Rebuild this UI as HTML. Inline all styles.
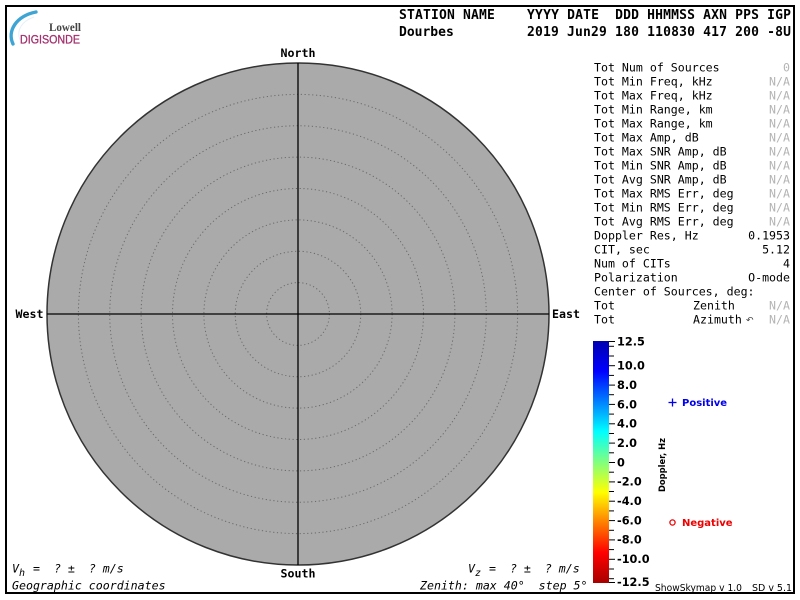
<!DOCTYPE html>
<html><head><meta charset="utf-8"><style>
html,body{margin:0;padding:0;background:#fff;}
svg{display:block;}
text{white-space:pre;}
.mono{font-family:"DejaVu Sans Mono","Liberation Mono",monospace;}
.sans{font-family:"DejaVu Sans","Liberation Sans",sans-serif;}
</style></head><body>
<svg width="800" height="600" viewBox="0 0 800 600" xmlns="http://www.w3.org/2000/svg" xml:space="preserve">
<rect x="0" y="0" width="800" height="600" fill="#fff"/>
<rect x="6" y="6" width="788" height="587" fill="none" stroke="#000" stroke-width="2"/>

<!-- logo -->
<path d="M13,44 C7,31 16,16 36,12" fill="none" stroke="#3ea4d4" stroke-width="3.4" stroke-linecap="round"/>
<path d="M20,40 C16,30 22,21 34,17" fill="none" stroke="#e4f1f8" stroke-width="1"/>
<text x="49" y="31" font-family="Liberation Serif,serif" font-size="11.5" font-weight="bold" fill="#444" textLength="32" lengthAdjust="spacingAndGlyphs">Lowell</text>
<text x="20" y="43.5" font-family="Liberation Sans,sans-serif" font-size="12" fill="#a3316e" stroke="#a3316e" stroke-width="0.3" textLength="60" lengthAdjust="spacingAndGlyphs">DIGISONDE</text>

<!-- header -->
<g class="mono" font-weight="bold" font-size="13" fill="#000">
<text x="399" y="19" textLength="392" lengthAdjust="spacing">STATION NAME    YYYY DATE  DDD HHMMSS AXN PPS IGP</text>
<text x="399" y="36">Dourbes</text>
<text x="527" y="36" textLength="264" lengthAdjust="spacing">2019 Jun29 180 110830 417 200 -8U</text>
</g>

<!-- polar plot -->
<circle cx="298" cy="314" r="251" fill="#aaaaaa" stroke="#333" stroke-width="1.5"/>
<g fill="none" stroke="#6a6a6a" stroke-width="1" stroke-dasharray="1.2 2.6">
<circle cx="298" cy="314" r="31.4"/>
<circle cx="298" cy="314" r="62.75"/>
<circle cx="298" cy="314" r="94.1"/>
<circle cx="298" cy="314" r="125.5"/>
<circle cx="298" cy="314" r="156.9"/>
<circle cx="298" cy="314" r="188.25"/>
<circle cx="298" cy="314" r="219.6"/>
</g>
<line x1="298" y1="63" x2="298" y2="565" stroke="#000" stroke-width="1.3"/>
<line x1="47" y1="314" x2="549" y2="314" stroke="#000" stroke-width="1.3"/>

<g class="mono" font-weight="bold" font-size="11.6" fill="#000">
<text x="298" y="57" text-anchor="middle">North</text>
<text x="298" y="577.5" text-anchor="middle">South</text>
<text x="15.5" y="318">West</text>
<text x="552" y="318">East</text>
</g>

<!-- right info panel -->
<g class="mono" font-size="11.6" fill="#000">
<text x="594" y="71.5">Tot Num of Sources</text>
<text x="594" y="85.5">Tot Min Freq, kHz</text>
<text x="594" y="99.5">Tot Max Freq, kHz</text>
<text x="594" y="113.5">Tot Min Range, km</text>
<text x="594" y="127.5">Tot Max Range, km</text>
<text x="594" y="141.5">Tot Max Amp, dB</text>
<text x="594" y="155.5">Tot Max SNR Amp, dB</text>
<text x="594" y="169.5">Tot Min SNR Amp, dB</text>
<text x="594" y="183.5">Tot Avg SNR Amp, dB</text>
<text x="594" y="197.5">Tot Max RMS Err, deg</text>
<text x="594" y="211.5">Tot Min RMS Err, deg</text>
<text x="594" y="225.5">Tot Avg RMS Err, deg</text>
<text x="594" y="239.5">Doppler Res, Hz</text>
<text x="594" y="253.5">CIT, sec</text>
<text x="594" y="267.5">Num of CITs</text>
<text x="594" y="281.5">Polarization</text>
<text x="594" y="295.5">Center of Sources, deg:</text>
<text x="594" y="309.5">Tot</text>
<text x="693" y="309.5">Zenith</text>
<text x="594" y="323.5">Tot</text>
<text x="693" y="323.5">Azimuth</text>
<text x="790" y="239.5" text-anchor="end">0.1953</text>
<text x="790" y="253.5" text-anchor="end">5.12</text>
<text x="790" y="267.5" text-anchor="end">4</text>
<text x="790" y="281.5" text-anchor="end">O-mode</text>
</g>
<text x="746" y="323" class="sans" font-size="9" fill="#444">↶</text>
<g class="mono" font-size="11.6" fill="#b4b4b4" text-anchor="end">
<text x="790" y="71.5">0</text>
<text x="790" y="85.5">N/A</text>
<text x="790" y="99.5">N/A</text>
<text x="790" y="113.5">N/A</text>
<text x="790" y="127.5">N/A</text>
<text x="790" y="141.5">N/A</text>
<text x="790" y="155.5">N/A</text>
<text x="790" y="169.5">N/A</text>
<text x="790" y="183.5">N/A</text>
<text x="790" y="197.5">N/A</text>
<text x="790" y="211.5">N/A</text>
<text x="790" y="225.5">N/A</text>
<text x="790" y="309.5">N/A</text>
<text x="790" y="323.5">N/A</text>
</g>

<!-- colorbar -->
<defs>
<linearGradient id="jet" x1="0" y1="0" x2="0" y2="1">
<stop offset="0" stop-color="#0000b0"/>
<stop offset="0.125" stop-color="#0000ff"/>
<stop offset="0.375" stop-color="#00ffff"/>
<stop offset="0.625" stop-color="#ffff00"/>
<stop offset="0.875" stop-color="#ff0000"/>
<stop offset="1" stop-color="#a80000"/>
</linearGradient>
</defs>
<rect x="593" y="341" width="16" height="242" fill="url(#jet)"/>
<g stroke="#000" stroke-width="1">
<line x1="609" y1="341.5" x2="615" y2="341.5"/>
<line x1="609" y1="346.3" x2="614" y2="346.3"/>
<line x1="609" y1="356" x2="614" y2="356"/>
<line x1="609" y1="365.7" x2="615" y2="365.7"/>
<line x1="609" y1="375.4" x2="614" y2="375.4"/>
<line x1="609" y1="385.1" x2="615" y2="385.1"/>
<line x1="609" y1="394.7" x2="614" y2="394.7"/>
<line x1="609" y1="404.4" x2="615" y2="404.4"/>
<line x1="609" y1="414.1" x2="614" y2="414.1"/>
<line x1="609" y1="423.8" x2="615" y2="423.8"/>
<line x1="609" y1="433.5" x2="614" y2="433.5"/>
<line x1="609" y1="443.1" x2="615" y2="443.1"/>
<line x1="609" y1="452.8" x2="614" y2="452.8"/>
<line x1="609" y1="462.5" x2="615" y2="462.5"/>
<line x1="609" y1="472.2" x2="614" y2="472.2"/>
<line x1="609" y1="481.9" x2="615" y2="481.9"/>
<line x1="609" y1="491.5" x2="614" y2="491.5"/>
<line x1="609" y1="501.2" x2="615" y2="501.2"/>
<line x1="609" y1="510.9" x2="614" y2="510.9"/>
<line x1="609" y1="520.6" x2="615" y2="520.6"/>
<line x1="609" y1="530.3" x2="614" y2="530.3"/>
<line x1="609" y1="539.9" x2="615" y2="539.9"/>
<line x1="609" y1="549.6" x2="614" y2="549.6"/>
<line x1="609" y1="559.3" x2="615" y2="559.3"/>
<line x1="609" y1="569" x2="614" y2="569"/>
<line x1="609" y1="578.7" x2="614" y2="578.7"/>
<line x1="609" y1="582.5" x2="615" y2="582.5"/>
</g>
<g class="sans" font-weight="bold" font-size="11.3" fill="#000">
<text x="617" y="345.5">12.5</text>
<text x="617" y="369.5">10.0</text>
<text x="617" y="389">8.0</text>
<text x="617" y="408.3">6.0</text>
<text x="617" y="427.6">4.0</text>
<text x="617" y="447">2.0</text>
<text x="617" y="466.3">0</text>
<text x="617" y="485.7">-2.0</text>
<text x="617" y="505">-4.0</text>
<text x="617" y="524.4">-6.0</text>
<text x="617" y="543.7">-8.0</text>
<text x="617" y="563">-10.0</text>
<text x="617" y="586">-12.5</text>
</g>
<text transform="translate(665,465) rotate(-90)" class="sans" font-weight="bold" font-size="9" text-anchor="middle" textLength="54" lengthAdjust="spacingAndGlyphs" fill="#000">Doppler, Hz</text>

<!-- legend -->
<g stroke="#0000ee" stroke-width="1.3">
<line x1="668.5" y1="402.5" x2="676.5" y2="402.5"/>
<line x1="672.5" y1="398.5" x2="672.5" y2="406.5"/>
</g>
<text x="682" y="406" class="sans" font-weight="bold" font-size="10" fill="#0000ee">Positive</text>
<circle cx="672.5" cy="522.5" r="2.6" fill="none" stroke="#ee0000" stroke-width="1.3"/>
<text x="682" y="526" class="sans" font-weight="bold" font-size="10" fill="#ee0000">Negative</text>

<!-- bottom texts -->
<g class="mono" font-style="italic" font-size="11.6" fill="#000">
<text x="12" y="572.5">V</text>
<text x="19" y="576" font-size="10">h</text>
<text x="33" y="572.5">=  ? ±  ? m/s</text>
<text x="468" y="572.5">V</text>
<text x="475" y="576" font-size="10">z</text>
<text x="489" y="572.5">=  ? ±  ? m/s</text>
<text x="12" y="589.5">Geographic coordinates</text>
<text x="420" y="589.5">Zenith: max 40°  step 5°</text>
</g>
<text x="655" y="591" class="sans" font-size="9.6" fill="#000" textLength="87" lengthAdjust="spacingAndGlyphs">ShowSkymap v 1.0</text>
<text x="752" y="591" class="sans" font-size="9.6" fill="#000" textLength="40" lengthAdjust="spacingAndGlyphs">SD v 5.1</text>
</svg>
</body></html>
